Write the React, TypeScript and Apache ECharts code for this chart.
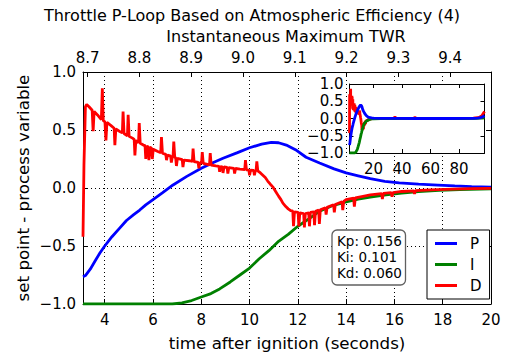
import React, { useEffect, useRef } from 'react';
import * as echarts from 'echarts';

const TITLE = 'Throttle P-Loop Based on Atmospheric Efficiency (4)';
const TOP_AXIS_TITLE = 'Instantaneous Maximum TWR';
const X_TITLE = 'time after ignition (seconds)';
const Y_TITLE = 'set point - process variable';
const SERIES_NAMES = ['P', 'I', 'D'];
const SERIES_COLORS = ['#0000ff', '#008000', '#ff0000'];
const GAINS = ['Kp: 0.156', 'Ki: 0.101', 'Kd: 0.060'];

const X_RANGE = [3.1, 20];
const TWR_RANGE = [8.691, 9.479];
const Y_RANGE = [-1, 1];
const INSET_X_RANGE = [3.1, 97.8];

// P term (blue)
const P_VALUES: number[][] = [
  [3.1, -0.765], [3.2, -0.755], [3.4, -0.7], [3.6, -0.63], [3.8, -0.56], [4.0, -0.5],
  [4.3, -0.42], [4.6, -0.35], [4.9, -0.28], [5.2, -0.23], [5.45, -0.19], [5.7, -0.145],
  [6.0, -0.1], [6.4, -0.04], [6.83, 0.026], [7.4, 0.1], [8.0, 0.17], [8.5, 0.22],
  [8.9, 0.256], [9.5, 0.305], [10.0, 0.347], [10.5, 0.378], [10.9, 0.394], [11.2, 0.39],
  [11.52, 0.37], [11.9, 0.33], [12.34, 0.265], [12.9, 0.215], [13.5, 0.165], [14.0, 0.13],
  [14.5, 0.105], [15.0, 0.08], [15.6, 0.058], [16.2, 0.045], [17.0, 0.033], [17.8, 0.025],
  [18.5, 0.018], [19.2, 0.012], [20.0, 0.008],
];

// I term (green)
const I_VALUES: number[][] = [
  [3.1, -1], [4.0, -1], [5.0, -1], [6.0, -1], [6.8, -1], [7.2, -0.99], [7.6, -0.97],
  [8.0, -0.94], [8.4, -0.91], [8.76, -0.87], [9.2, -0.81], [9.6, -0.75], [10.0, -0.69],
  [10.4, -0.61], [10.8, -0.54], [11.2, -0.46], [11.6, -0.4], [12.0, -0.33], [12.5, -0.26],
  [12.9, -0.2], [13.4, -0.155], [14.0, -0.12], [14.5, -0.095], [15.0, -0.078],
  [15.65, -0.06], [16.3, -0.045], [17.0, -0.032], [17.85, -0.02], [18.7, -0.013], [20.0, -0.008],
];

// D term (red), noisy
const D_VALUES: number[][] = [
  [3.1, -0.42], [3.14, 0.2], [3.2, 0.7], [3.25, 0.72], [3.35, 0.7], [3.48, 0.67], [3.52, 0.49],
  [3.56, 0.66], [3.7, 0.63], [3.86, 0.59], [3.9, 0.86], [3.94, 0.58], [4.01, 0.57], [4.05, 0.41],
  [4.09, 0.565], [4.25, 0.54], [4.39, 0.515], [4.42, 0.37], [4.46, 0.51], [4.6, 0.49],
  [4.73, 0.475], [4.76, 0.66], [4.8, 0.47], [4.94, 0.45], [4.97, 0.63], [5.01, 0.445],
  [5.15, 0.43], [5.22, 0.42], [5.25, 0.28], [5.29, 0.41], [5.4, 0.39], [5.43, 0.56],
  [5.47, 0.385], [5.6, 0.37], [5.67, 0.365], [5.7, 0.25], [5.74, 0.36], [5.8, 0.355],
  [5.83, 0.24], [5.87, 0.35], [5.94, 0.345], [5.97, 0.25], [6.01, 0.335], [6.2, 0.315],
  [6.32, 0.305], [6.35, 0.44], [6.39, 0.3], [6.53, 0.29], [6.56, 0.24], [6.6, 0.285],
  [6.73, 0.275], [6.76, 0.22], [6.8, 0.27], [6.83, 0.27], [6.86, 0.4], [6.9, 0.265],
  [6.94, 0.26], [6.97, 0.19], [7.01, 0.255], [7.21, 0.245], [7.24, 0.18], [7.28, 0.24],
  [7.5, 0.235], [7.63, 0.23], [7.66, 0.34], [7.7, 0.228], [7.87, 0.22], [7.9, 0.17],
  [7.94, 0.218], [8.01, 0.214], [8.04, 0.31], [8.08, 0.212], [8.34, 0.2], [8.37, 0.3],
  [8.41, 0.198], [8.6, 0.19], [8.73, 0.187], [8.76, 0.14], [8.8, 0.185], [8.87, 0.183],
  [8.9, 0.13], [8.94, 0.181], [9.07, 0.178], [9.1, 0.125], [9.14, 0.176], [9.35, 0.17],
  [9.38, 0.125], [9.42, 0.168], [9.6, 0.163], [9.8, 0.158], [9.83, 0.24], [9.87, 0.157],
  [9.97, 0.155], [10.0, 0.11], [10.04, 0.154], [10.17, 0.152], [10.2, 0.11], [10.24, 0.151],
  [10.27, 0.15], [10.3, 0.23], [10.34, 0.148], [10.45, 0.13], [10.55, 0.11], [10.65, 0.09],
  [10.75, 0.06], [10.85, 0.035], [10.96, 0.01], [11.08, -0.03], [11.2, -0.07], [11.3, -0.1],
  [11.38, -0.13], [11.5, -0.16], [11.6, -0.18], [11.7, -0.195], [11.79, -0.2], [11.82, -0.33],
  [11.86, -0.205], [12.01, -0.21], [12.04, -0.33], [12.08, -0.215], [12.24, -0.22],
  [12.27, -0.34], [12.31, -0.22], [12.45, -0.215], [12.48, -0.33], [12.52, -0.21],
  [12.66, -0.205], [12.69, -0.32], [12.73, -0.2], [12.86, -0.19], [12.89, -0.31],
  [12.93, -0.188], [13.14, -0.17], [13.17, -0.23], [13.21, -0.167], [13.48, -0.145],
  [13.51, -0.21], [13.55, -0.142], [13.83, -0.118], [13.86, -0.19], [13.9, -0.115],
  [14.0, -0.1], [14.31, -0.088], [14.34, -0.16], [14.38, -0.086], [14.7, -0.072],
  [15.0, -0.06], [15.47, -0.048], [15.5, -0.095], [15.54, -0.047], [15.87, -0.04],
  [15.9, -0.075], [15.94, -0.039], [16.3, -0.03], [16.8, -0.024], [16.83, -0.05],
  [16.87, -0.023], [17.5, -0.016], [18.4, -0.01], [19.2, -0.006], [20.0, -0.003],
];

// Later part of the flight, shown only in the inset
const P_LATE: number[][] = [
  [25, 0.004], [35, 0.001], [50, 0], [70, 0], [85, 0.002], [90, 0.006], [93, 0.012],
  [95, 0.025], [96.5, 0.045], [97.8, 0.08],
];
const I_LATE: number[][] = [
  [25, -0.004], [35, -0.001], [50, 0], [80, 0], [92, 0.003], [96, 0.01], [97.8, 0.02],
];
const D_LATE: number[][] = [
  [24, 0], [34, 0.01], [35, 0.04], [36, 0], [48, 0], [49, 0.03], [50, 0], [70, 0],
  [90, 0.01], [94, 0.03], [96, 0.08], [97, 0.15], [97.8, 0.2],
];

const FONT = 'DejaVu Sans';
const BLACK = '#000';

const isMultiple = (v: number, step: number) =>
  Math.abs(v / step - Math.round(v / step)) < 1e-6;

const fmtSigned = (v: number) => {
  const s = Math.abs(v).toFixed(1);
  return v < -1e-9 ? '\u2212' + s : s;
};

const tickStyle = (len: number) => ({
  show: true,
  inside: true,
  length: len,
  lineStyle: { color: BLACK, width: 1 },
});

export default function App() {
  const ref = useRef<HTMLDivElement>(null);

  useEffect(() => {
    if (!ref.current) return;
    const chart = echarts.init(ref.current, null, { renderer: 'svg' });

    const labelStyle = { color: BLACK, fontSize: 15, fontFamily: FONT };
    const dotted = { show: true, lineStyle: { color: BLACK, width: 1, type: [1, 3] as any } };
    const axisLine = { show: true, onZero: false, lineStyle: { color: BLACK, width: 1 } };

    const mainSeries = SERIES_NAMES.map((name, i) => ({
      name,
      type: 'line',
      xAxisIndex: 0,
      yAxisIndex: 0,
      data: [P_VALUES, I_VALUES, D_VALUES][i],
      showSymbol: false,
      symbol: 'none',
      legendIcon: 'rect',
      lineStyle: { color: SERIES_COLORS[i], width: 2.8 },
      itemStyle: { color: SERIES_COLORS[i] },
      z: 2,
    }));

    const insetData = [
      [...P_VALUES, ...P_LATE],
      [...I_VALUES, ...I_LATE],
      [...D_VALUES, ...D_LATE],
    ];
    const insetSeries = [2, 1, 0].map((i) => ({
      name: SERIES_NAMES[i] + ' (inset)',
      type: 'line',
      xAxisIndex: 2,
      yAxisIndex: 2,
      data: insetData[i],
      showSymbol: false,
      symbol: 'none',
      lineStyle: { color: SERIES_COLORS[i], width: 2.8 },
      itemStyle: { color: SERIES_COLORS[i] },
      z: 8,
    }));

    chart.setOption({
      animation: false,
      backgroundColor: '#fff',
      textStyle: { fontFamily: FONT },
      grid: [
        { left: 83, top: 72, width: 408, height: 232, show: false, containLabel: false },
        {
          left: 349.5, top: 84, width: 135, height: 69, show: true,
          backgroundColor: '#fff', borderWidth: 0, z: 5, containLabel: false,
        },
      ],
      xAxis: [
        {
          gridIndex: 0, type: 'value', position: 'bottom',
          min: X_RANGE[0], max: X_RANGE[1], minInterval: 2, maxInterval: 2, splitNumber: 8,
          axisLine, axisTick: tickStyle(5),
          axisLabel: { ...labelStyle, margin: 8, formatter: (v: number) => (isMultiple(v, 2) ? String(Math.round(v)) : '') },
          splitLine: dotted,
        },
        {
          gridIndex: 0, type: 'value', position: 'top',
          min: TWR_RANGE[0], max: TWR_RANGE[1], minInterval: 0.1, maxInterval: 0.1, splitNumber: 8,
          axisLine, axisTick: tickStyle(5),
          axisLabel: { ...labelStyle, margin: 7, formatter: (v: number) => (isMultiple(v, 0.1) ? v.toFixed(1) : '') },
          splitLine: { show: false },
        },
        {
          gridIndex: 1, type: 'value', position: 'bottom', z: 6,
          min: INSET_X_RANGE[0], max: INSET_X_RANGE[1], minInterval: 20, maxInterval: 20, splitNumber: 5,
          axisLine, axisTick: tickStyle(4),
          axisLabel: { ...labelStyle, margin: 8, formatter: (v: number) => (isMultiple(v, 20) ? String(Math.round(v)) : '') },
          splitLine: { show: false },
        },
        {
          gridIndex: 1, type: 'value', position: 'top', z: 6,
          min: INSET_X_RANGE[0], max: INSET_X_RANGE[1], minInterval: 20, maxInterval: 20, splitNumber: 5,
          axisLine, axisTick: tickStyle(4), axisLabel: { show: false }, splitLine: { show: false },
        },
      ],
      yAxis: [
        {
          gridIndex: 0, type: 'value', position: 'left',
          min: Y_RANGE[0], max: Y_RANGE[1], interval: 0.5,
          axisLine, axisTick: tickStyle(5),
          axisLabel: { ...labelStyle, margin: 7, formatter: fmtSigned },
          splitLine: dotted,
        },
        {
          gridIndex: 0, type: 'value', position: 'right',
          min: Y_RANGE[0], max: Y_RANGE[1], interval: 0.5,
          axisLine, axisTick: tickStyle(5), axisLabel: { show: false }, splitLine: { show: false },
        },
        {
          gridIndex: 1, type: 'value', position: 'left', z: 6,
          min: Y_RANGE[0], max: Y_RANGE[1], interval: 0.5,
          axisLine, axisTick: tickStyle(4),
          axisLabel: { ...labelStyle, margin: 6, formatter: fmtSigned },
          splitLine: { show: false },
        },
        {
          gridIndex: 1, type: 'value', position: 'right', z: 6,
          min: Y_RANGE[0], max: Y_RANGE[1], interval: 0.5,
          axisLine, axisTick: tickStyle(4), axisLabel: { show: false }, splitLine: { show: false },
        },
      ],
      legend: {
        data: SERIES_NAMES,
        orient: 'vertical',
        left: 427,
        top: 230,
        padding: [6, 8, 6, 8],
        itemGap: 6,
        itemWidth: 22,
        itemHeight: 3,
        icon: 'rect',
        backgroundColor: '#fff',
        borderColor: BLACK,
        borderWidth: 1,
        borderRadius: 0,
        selectedMode: false,
        textStyle: { color: BLACK, fontSize: 15, lineHeight: 15, fontFamily: FONT, padding: [0, 0, 0, 8] },
        z: 10,
      },
      graphic: [
        {
          type: 'text', x: 252, y: 15, z: 20,
          style: { text: TITLE, fill: BLACK, font: `16px "${FONT}"`, textAlign: 'center', textVerticalAlign: 'middle' },
        },
        {
          type: 'text', x: 286, y: 36.5, z: 20,
          style: { text: TOP_AXIS_TITLE, fill: BLACK, font: `16px "${FONT}"`, textAlign: 'center', textVerticalAlign: 'middle' },
        },
        {
          type: 'text', x: 287, y: 343, z: 20,
          style: { text: X_TITLE, fill: BLACK, font: `16.7px "${FONT}"`, textAlign: 'center', textVerticalAlign: 'middle' },
        },
        {
          type: 'text', x: 23, y: 188, rotation: Math.PI / 2, z: 20,
          style: { text: Y_TITLE, fill: BLACK, font: `16.7px "${FONT}"`, textAlign: 'center', textVerticalAlign: 'middle' },
        },
        {
          type: 'rect', z: 20,
          shape: { x: 332, y: 230, width: 73.5, height: 55, r: 5 },
          style: { fill: '#fff', stroke: '#606060', lineWidth: 1.3 },
        },
        {
          type: 'text', x: 337, y: 232.5, z: 21,
          style: {
            text: GAINS.join('\n'), fill: BLACK, font: `13.5px "${FONT}"`,
            lineHeight: 16.2, textAlign: 'left', textVerticalAlign: 'top',
          },
        },
      ],
      series: [...mainSeries, ...insetSeries],
    });

    return () => chart.dispose();
  }, []);

  return (
    <div
      ref={ref}
      style={{ position: 'fixed', left: 0, top: 0, width: 512, height: 362, background: '#fff' }}
    />
  );
}
